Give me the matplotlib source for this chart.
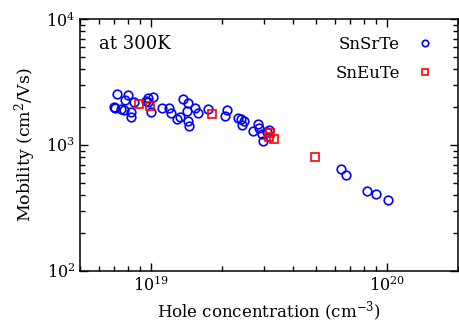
import numpy as np
import matplotlib
matplotlib.use("Agg")
from matplotlib import pyplot as plt
from matplotlib.ticker import LogLocator, NullFormatter

plt.rcParams['font.family'] = ['DejaVu Serif']
plt.rcParams['mathtext.fontset'] = 'dejavuserif'

# SnSrTe: hole concentration (cm^-3) and mobility (cm^2/Vs)
srte_p = [7.14e18, 7.95e18, 7.74e18, 8.45e18, 6.96e18, 7.03e18, 7.45e18, 7.67e18,
          8.23e18, 8.23e18, 9.53e18, 9.74e18, 1.023e19, 9.96e18, 9.67e18, 1.108e19,
          1.194e19, 1.218e19, 1.372e19, 1.432e19, 1.532e19, 1.587e19, 1.427e19,
          1.329e19, 1.291e19, 1.440e19, 1.446e19, 1.739e19, 2.091e19, 2.050e19,
          2.326e19, 2.409e19, 2.466e19, 2.432e19, 2.698e19, 2.833e19, 2.880e19,
          2.953e19, 2.982e19, 3.100e19, 3.151e19, 6.36e19, 6.67e19, 8.24e19,
          9.01e19, 1.013e20]
srte_mu = [2526, 2508, 2263, 2206, 2014, 1956, 1931, 1896,
           1818, 1659, 2247, 2374, 2418, 1818, 2206, 1977,
           1977, 1785, 2318, 2143, 1977, 1804, 1851,
           1659, 1600, 1550, 1415, 1920, 1906, 1699,
           1647, 1600, 1550, 1433, 1299, 1468, 1372,
           1223, 1076, 1275, 1315, 648, 581, 434,
           411, 364]

# SnEuTe
eute_p = [8.87e18, 9.90e18, 1.813e19, 3.203e19, 3.151e19, 3.307e19, 4.97e19]
eute_mu = [2127, 2039, 1753, 1238, 1164, 1112, 799]

fig = plt.figure(figsize=(4.59, 3.26), dpi=100)
ax = fig.add_axes([0.1743, 0.1687, 0.8237, 0.773])

ax.plot(srte_p, srte_mu, 'o', ls='none', mfc='none', mec='#0000ff', mew=1.2, ms=6.2,
        label='SnSrTe')
ax.plot(eute_p, eute_mu, 's', ls='none', mfc='none', mec='#ff0000', mew=1.2, ms=5.8,
        label='SnEuTe')

ax.set_xscale('log')
ax.set_yscale('log')
ax.set_xlim(5e18, 2e20)
ax.set_ylim(1e2, 1e4)

ax.xaxis.set_minor_locator(LogLocator(base=10, subs=np.arange(2, 10)))
ax.yaxis.set_minor_locator(LogLocator(base=10, subs=np.arange(2, 10)))
ax.xaxis.set_minor_formatter(NullFormatter())
ax.yaxis.set_minor_formatter(NullFormatter())
ax.tick_params(which='both', direction='in', top=True, right=True, width=1.0,
               labelsize=11.5)
ax.tick_params(which='major', length=6)
ax.tick_params(which='minor', length=3.5)
for s in ax.spines.values():
    s.set_linewidth(1.1)

ax.set_xlabel('Hole concentration (cm$^{-3}$)', fontsize=12, labelpad=3)
ax.set_ylabel('Mobility (cm$^2$/Vs)', fontsize=12.5, labelpad=6)

ax.text(0.05, 0.9, 'at 300K', transform=ax.transAxes, fontsize=13, va='center')

ax.legend(loc='upper right', frameon=False, markerfirst=False, fontsize=12,
          markerscale=0.75, handletextpad=0.5, borderaxespad=0.6,
          labelspacing=0.75)

fig.savefig('out.png', dpi=100)
